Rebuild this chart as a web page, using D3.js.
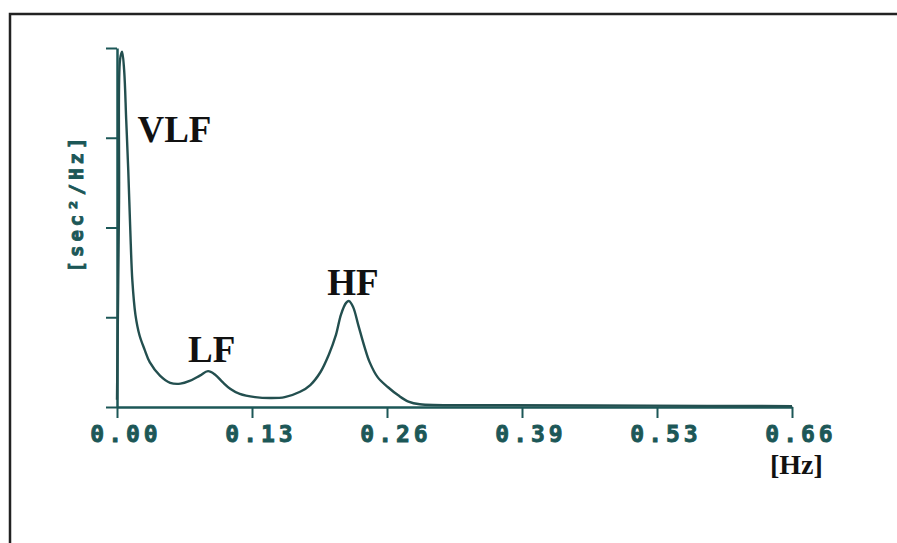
<!DOCTYPE html>
<html>
<head>
<meta charset="utf-8">
<script src="https://d3js.org/d3.v7.min.js"></script>
<style>
  body { margin: 0; background: #fff; }
  svg { display: block; }
  .tick-lbl { font-family: "DejaVu Sans Mono", monospace; font-weight: bold; fill: #1c5757; stroke: #1c5757; stroke-width: 0.9px; }
  .band { font-family: "Liberation Serif", "Times New Roman", serif; font-weight: bold; fill: #111; }
</style>
</head>
<body>
<svg id="chart"></svg>
<script>
// spectrum: frequency [Hz] and power [sec2/Hz]
var freq = [0.000, 0.002, 0.003, 0.005, 0.007, 0.009, 0.011, 0.013, 0.015, 0.018,
  0.022, 0.027, 0.032, 0.042, 0.052, 0.062, 0.071, 0.081, 0.089, 0.096,
  0.103, 0.111, 0.120, 0.135, 0.150, 0.164, 0.179, 0.189, 0.199, 0.207,
  0.214, 0.219, 0.224, 0.227, 0.231, 0.236, 0.242, 0.247, 0.255, 0.265,
  0.275, 0.285, 0.296, 0.375, 0.521, 0.660];
var power = [0.08, 2.30, 3.87, 3.96, 3.75, 3.20, 2.64, 1.97, 1.41, 1.03,
  0.80, 0.64, 0.50, 0.35, 0.27, 0.26, 0.29, 0.35, 0.40, 0.36,
  0.28, 0.20, 0.145, 0.11, 0.10, 0.11, 0.17, 0.245, 0.39, 0.58,
  0.80, 1.03, 1.16, 1.18, 1.11, 0.91, 0.67, 0.50, 0.33, 0.22,
  0.13, 0.06, 0.03, 0.02, 0.015, 0.01];

var xTickVals = [0, 0.132, 0.264, 0.396, 0.528, 0.66];
var xTickLabels = ["0.00", "0.13", "0.26", "0.39", "0.53", "0.66"];
var yTickVals = [0, 1, 2, 3, 4];

var bands = [
  { name: "VLF", f: 0.0200, p: 2.95 },
  { name: "LF",  f: 0.0695, p: 0.50 },
  { name: "HF",  f: 0.2055, p: 1.25 }
];

var W = 897, H = 543;
var teal = "#1c5757";

var svg = d3.select("#chart").attr("width", W).attr("height", H);

// outer frame (top and left only)
svg.append("path")
  .attr("d", "M10," + H + " L10,14 L" + W + ",14")
  .attr("fill", "none")
  .attr("stroke", "#222")
  .attr("stroke-width", 2.5);

var x = d3.scaleLinear().domain([0, 0.66]).range([117, 792]);
var y = d3.scaleLinear().domain([0, 4]).range([407, 48]);

// x axis
var xAxis = svg.append("g")
  .attr("transform", "translate(0," + y(0) + ")")
  .call(d3.axisBottom(x).tickValues(xTickVals).tickSize(11).tickSizeOuter(0).tickFormat(""));
xAxis.select(".domain").attr("stroke", teal).attr("stroke-width", 2.5);
xAxis.selectAll(".tick line").attr("stroke", teal).attr("stroke-width", 2);

svg.append("g").selectAll("text")
  .data(xTickVals)
  .enter()
  .append("text")
  .attr("class", "tick-lbl")
  .attr("x", (d) => x(d) + 9)
  .attr("y", 442)
  .attr("text-anchor", "middle")
  .style("font-size", "23px")
  .style("letter-spacing", "4px")
  .text((d, i) => xTickLabels[i]);

// y axis
var yAxis = svg.append("g")
  .attr("transform", "translate(" + x(0) + ",0)")
  .call(d3.axisLeft(y).tickValues(yTickVals).tickSize(11).tickSizeOuter(0).tickFormat(""));
yAxis.select(".domain").attr("stroke", teal).attr("stroke-width", 2.5);
yAxis.selectAll(".tick line").attr("stroke", teal).attr("stroke-width", 2);

svg.append("text")
  .attr("class", "tick-lbl")
  .attr("transform", "translate(83,203) rotate(-90)")
  .attr("text-anchor", "middle")
  .style("font-size", "19px")
  .style("letter-spacing", "4px")
  .text("[sec²/Hz]");

// spectrum line
var line = d3.line()
  .x((d, i) => x(freq[i]))
  .y((d, i) => y(power[i]))
  .curve(d3.curveCatmullRom.alpha(0.5));

svg.append("path")
  .datum(power)
  .attr("d", line)
  .attr("fill", "none")
  .attr("stroke", "#234f4f")
  .attr("stroke-width", 2.4)
  .attr("stroke-linejoin", "round");

// band labels
svg.append("g").selectAll("text")
  .data(bands)
  .enter()
  .append("text")
  .attr("class", "band")
  .attr("x", (d) => x(d.f))
  .attr("y", (d) => y(d.p))
  .style("font-size", "37px")
  .text((d) => d.name);

svg.append("text")
  .attr("class", "band")
  .attr("x", 770)
  .attr("y", 474)
  .style("font-size", "28px")
  .text("[Hz]");
</script>
</body>
</html>
